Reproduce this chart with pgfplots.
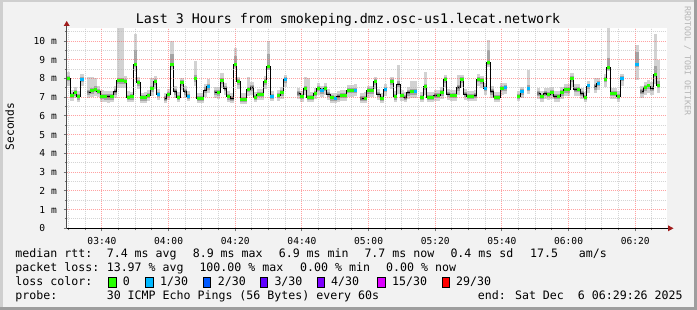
\documentclass[border=0pt]{standalone}
\usepackage{pgfplots}
\pgfplotsset{compat=1.18}
\usepackage{pgfplotstable}
\usepackage{fontspec}
\setmainfont{DejaVu Sans Mono}
\definecolor{bgc}{HTML}{F2F2F2}
\definecolor{shadea}{HTML}{CFCFCF}
\definecolor{shadeb}{HTML}{9E9E9E}
\definecolor{smokeA}{HTML}{D2D2D2}
\definecolor{smokeB}{HTML}{A4A4A4}
\definecolor{smokeC}{HTML}{7A7A7A}
\definecolor{lossA}{HTML}{26FF00}
\definecolor{lossB}{HTML}{00B8FF}
\definecolor{lossC}{HTML}{0059FF}
\definecolor{lossD}{HTML}{5E00FF}
\definecolor{lossE}{HTML}{7E00FF}
\definecolor{lossF}{HTML}{DD00FF}
\definecolor{lossG}{HTML}{FF0000}
\definecolor{arrowc}{HTML}{A01C1C}
\definecolor{mgrid}{HTML}{FF5656}
\definecolor{mingrid}{HTML}{BABABA}
\definecolor{wm}{HTML}{B5B5B5}

% x = minutes after 03:00, med = median rtt (ms), lo/hi = smoke extent, mh = top of darker smoke, c = loss class (0 none,1 = 0 loss,2 = 1/30)
\pgfplotstableread{
x med lo hi mh c
30 8.00 7.60 8.36 8.15 1
31 7.10 6.82 7.40 7.23 1
32 7.24 6.95 7.52 7.37 1
33 7.03 6.75 7.32 7.16 1
34 7.96 7.62 8.22 8.09 2
35 nan nan nan nan 0
36 7.27 6.95 8.10 7.40 0
37 7.35 7.00 8.10 7.50 1
38 7.42 7.05 8.00 7.58 1
39 7.33 7.00 7.62 7.46 1
40 7.06 6.75 7.40 7.19 1
41 7.03 6.72 7.35 7.16 1
42 7.03 6.70 7.32 7.16 0
43 7.03 6.72 7.32 7.16 1
44 7.29 6.95 7.58 7.42 0
45 7.88 7.50 10.70 8.05 1
46 7.88 7.50 10.70 8.05 1
47 7.85 7.50 8.15 7.98 1
48 7.00 6.72 7.35 7.13 1
49 7.02 6.72 7.30 7.15 1
50 8.77 8.40 10.35 9.50 1
51 7.78 7.45 8.10 7.92 1
52 6.98 6.70 7.25 7.11 1
53 6.98 6.70 7.28 7.11 1
54 7.10 6.80 7.38 7.23 1
55 7.45 7.08 8.05 7.60 1
56 7.83 7.45 8.12 7.96 1
57 7.15 6.85 7.42 7.28 2
58 nan nan nan nan 0
59 6.94 6.68 7.25 7.07 0
60 7.17 6.85 7.45 7.30 1
61 8.77 8.45 10.00 9.30 1
62 7.29 6.95 7.60 7.42 0
63 7.00 6.72 7.30 7.13 1
64 7.78 7.40 8.05 7.92 1
65 7.29 6.95 7.58 7.42 0
66 7.06 6.78 7.35 7.19 2
67 nan nan nan nan 0
68 7.99 7.60 8.95 8.20 1
69 6.94 6.68 7.25 7.07 1
70 6.94 6.68 7.22 7.07 1
71 7.38 7.02 7.68 7.52 0
72 7.56 7.25 7.95 7.70 2
73 nan nan nan nan 0
74 7.27 6.95 7.55 7.40 0
75 7.25 6.92 7.55 7.38 1
76 7.88 7.50 8.30 8.02 1
77 7.47 7.10 7.78 7.60 0
78 7.03 6.75 7.32 7.16 1
79 6.94 6.68 7.25 7.07 0
80 8.75 8.50 9.61 9.20 1
81 7.83 7.45 8.10 7.96 1
82 6.90 6.65 7.20 7.03 1
83 6.90 6.65 7.22 7.03 1
84 7.42 7.05 8.10 7.56 1
85 7.50 7.10 7.80 7.64 0
86 7.00 6.72 7.30 7.13 1
87 7.17 6.85 7.45 7.30 1
88 7.17 6.85 7.45 7.30 1
89 7.83 7.45 8.12 7.96 1
90 8.63 8.45 10.00 9.30 1
91 7.05 6.78 7.35 7.18 2
92 nan nan nan nan 0
93 7.10 6.80 7.38 7.23 1
94 7.25 6.92 7.55 7.38 1
95 7.93 7.55 8.20 8.06 2
96 nan nan nan nan 0
97 nan nan nan nan 0
98 nan nan nan nan 0
99 7.20 6.88 7.50 7.33 0
100 7.05 6.75 7.35 7.18 1
101 7.47 7.10 8.10 7.62 1
102 7.00 6.72 8.05 7.13 1
103 7.00 6.72 7.30 7.13 1
104 7.20 6.90 7.50 7.33 1
105 7.47 7.10 7.75 7.60 1
106 7.35 7.02 7.62 7.48 2
107 7.47 7.10 7.75 7.60 1
108 7.17 6.85 7.45 7.30 0
109 6.97 6.70 7.25 7.10 1
110 6.95 6.68 7.25 7.08 2
111 7.03 6.75 7.32 7.16 0
112 7.10 6.80 7.38 7.23 1
113 7.10 6.80 7.38 7.23 1
114 7.38 7.02 7.65 7.51 1
115 7.38 7.02 7.65 7.51 1
116 7.38 7.05 7.68 7.51 2
117 nan nan nan nan 0
118 6.94 6.68 7.25 7.07 0
119 6.94 6.68 7.28 7.07 1
120 7.35 7.00 7.62 7.48 1
121 7.35 7.00 7.62 7.48 1
122 7.83 7.45 8.10 7.96 1
123 7.17 6.85 7.45 7.30 0
124 6.94 6.68 7.25 7.07 1
125 7.42 7.05 7.72 7.55 2
126 nan nan nan nan 0
127 7.83 7.45 8.10 7.96 1
128 7.03 6.75 7.32 7.16 1
129 7.70 7.15 8.72 7.85 0
130 7.10 6.80 7.38 7.23 1
131 7.00 6.72 7.30 7.13 0
132 7.25 6.92 7.55 7.38 0
133 7.30 6.95 7.85 7.43 1
134 7.30 6.95 7.85 7.43 2
135 nan nan nan nan 0
136 7.00 6.72 7.30 7.13 1
137 7.56 7.10 8.36 7.70 1
138 7.00 6.72 7.30 7.13 1
139 7.00 6.72 7.30 7.13 1
140 7.10 6.80 7.38 7.23 0
141 7.10 6.80 7.38 7.23 1
142 7.25 6.92 7.55 7.38 1
143 7.93 7.55 8.20 8.06 1
144 7.17 6.85 7.45 7.30 0
145 7.10 6.80 7.38 7.23 1
146 7.10 6.80 7.40 7.23 1
147 7.50 7.10 8.18 7.64 0
148 7.93 7.55 8.20 8.06 1
149 7.17 6.85 7.45 7.30 0
150 7.06 6.78 7.35 7.19 1
151 7.06 6.78 7.35 7.19 1
152 7.10 6.80 7.40 7.23 0
153 7.96 7.58 8.25 8.09 1
154 7.87 7.50 8.15 8.00 1
155 7.47 7.10 7.75 7.60 2
156 8.86 8.60 10.05 9.50 1
157 7.30 6.95 7.60 7.43 0
158 7.00 6.72 7.30 7.13 1
159 7.00 6.72 7.30 7.13 1
160 7.47 7.10 7.75 7.60 1
161 7.50 7.15 7.78 7.63 2
162 nan nan nan nan 0
163 nan nan nan nan 0
164 nan nan nan nan 0
165 7.06 6.78 7.35 7.19 1
166 7.29 6.95 7.55 7.42 2
167 nan nan nan nan 0
168 7.47 7.15 8.45 7.65 2
169 nan nan nan nan 0
170 nan nan nan nan 0
171 7.20 6.90 7.50 7.33 0
172 7.05 6.75 7.35 7.18 1
173 7.20 6.88 7.50 7.33 0
174 7.17 6.85 7.48 7.30 1
175 7.25 6.92 7.55 7.38 1
176 7.05 6.75 7.35 7.18 0
177 7.05 6.75 7.35 7.18 1
178 7.25 6.92 7.55 7.38 1
179 7.40 7.05 7.70 7.53 1
180 7.40 7.05 7.70 7.53 1
181 7.98 7.55 8.30 8.11 1
182 7.42 7.05 7.72 7.55 0
183 7.42 7.05 7.72 7.55 1
184 7.20 6.88 7.50 7.33 0
185 7.00 6.72 7.30 7.13 1
186 7.60 7.25 7.88 7.73 2
187 nan nan nan nan 0
188 7.55 7.20 8.00 7.68 0
189 7.74 7.40 8.00 7.87 2
190 nan nan nan nan 0
191 7.96 7.55 8.25 8.09 1
192 8.60 8.40 10.68 9.10 1
193 7.20 6.88 7.50 7.33 1
194 7.20 6.88 7.50 7.33 1
195 7.05 6.75 7.35 7.18 1
196 8.00 7.62 8.25 8.13 2
197 nan nan nan nan 0
198 nan nan nan nan 0
199 nan nan nan nan 0
200.5 8.75 7.91 9.79 9.40 2
201.5 nan nan nan nan 0
202 7.31 6.95 7.60 7.44 0
203 7.50 7.12 7.80 7.63 1
204 7.60 7.22 7.90 7.73 1
205 7.48 7.10 7.80 7.61 0
206 8.22 7.70 10.40 8.65 1
207 7.65 7.25 9.00 7.85 1
208 nan nan nan nan 0
}\smoke

\newcommand{\lf}{\fontsize{11.6}{13}\selectfont}

\begin{document}
\begin{tikzpicture}
\useasboundingbox (0,0) rectangle (697pt,310pt);
\fill[bgc] (0,0) rectangle (697pt,310pt);
\fill[shadea] (0,307.5pt) rectangle (697pt,310pt);
\fill[shadea] (0,0) rectangle (2.5pt,310pt);
\fill[shadeb] (0,0) rectangle (697pt,3pt);
\fill[shadeb] (694pt,0) rectangle (697pt,310pt);

\begin{axis}[
  at={(66.7pt,81.7pt)}, anchor=south west,
  width=600pt, height=200pt, scale only axis,
  xmin=29.433, xmax=209.433, ymin=0, ymax=10.68,
  axis background/.style={fill=white},
  axis line style={draw=none},
  tick pos=left, tick align=outside,
  major tick length=3pt, minor tick length=2pt,
  tick style={draw=black!55, line width=1pt},
  xtick={40,60,...,200},
  xticklabels={03:40,04:00,04:20,04:40,05:00,05:20,05:40,06:00,06:20},
  minor xtick={30,35,45,50,55,65,70,75,85,90,95,105,110,115,125,130,135,145,150,155,165,170,175,185,190,195,205},
  ytick={0,1,2,3,4,5,6,7,8,9,10},
  yticklabels={{0\hphantom{\ m}},{1 m},{2 m},{3 m},{4 m},{5 m},{6 m},{7 m},{8 m},{9 m},{10 m}},
  minor ytick={0.5,1.5,2.5,3.5,4.5,5.5,6.5,7.5,8.5,9.5,10.5},
  grid=both,
  major grid style={draw=mgrid, opacity=0.55, dash pattern=on 1pt off 1pt, line width=1pt},
  minor grid style={draw=mingrid, opacity=0.6, dash pattern=on 1pt off 1pt, line width=1pt},
  axis on top,
  unbounded coords=jump,
  ticklabel style={font=\fontsize{9.6}{11}\selectfont, inner sep=0pt},
  xticklabel style={anchor=base, yshift=-13.7pt},
  yticklabel style={anchor=east, xshift=-6.7pt},
]
% smoke: outer
\addplot[draw=none, mark=none, forget plot,
  error bars/.cd, y dir=both, y explicit, error mark=none,
  error bar style={line width=3.4pt, draw=smokeA}]
  table[x=x, y=med, y error plus expr=\thisrow{hi}-\thisrow{med}, y error minus expr=\thisrow{med}-\thisrow{lo}] {\smoke};
% smoke: middle
\addplot[draw=none, mark=none, forget plot,
  error bars/.cd, y dir=both, y explicit, error mark=none,
  error bar style={line width=3.4pt, draw=smokeB}]
  table[x=x, y=med, y error plus expr=\thisrow{mh}-\thisrow{med}, y error minus expr=0.16] {\smoke};
% smoke: inner
\addplot[draw=none, mark=none, forget plot,
  error bars/.cd, y dir=both, y explicit, error mark=none,
  error bar style={line width=3.4pt, draw=smokeC}]
  table[x=x, y=med, y error plus expr=0.08, y error minus expr=0.07] {\smoke};
% median line
\addplot[const plot mark mid, draw=black, line width=0.9pt, mark=none] table[x=x, y=med] {\smoke};
% loss colour marks
\addplot[only marks, mark=-, mark size=1.7pt, mark options={line width=3pt, draw=lossA},
  restrict expr to domain={\thisrow{c}}{0.5:1.5}] table[x=x, y=med] {\smoke};
\addplot[only marks, mark=-, mark size=1.7pt, mark options={line width=3pt, draw=lossB},
  restrict expr to domain={\thisrow{c}}{1.5:2.5}] table[x=x, y=med] {\smoke};
\end{axis}

% axis lines with arrows
\draw[black, line width=1pt] (66.7pt,81.7pt) -- (668.5pt,81.7pt);
\fill[arrowc] (668pt,84.7pt) -- (673.5pt,81.7pt) -- (668pt,78.7pt) -- cycle;
\draw[black!70, line width=1pt] (66.7pt,81.7pt) -- (66.7pt,284.5pt);
\fill[arrowc] (63.7pt,284pt) -- (66.7pt,289pt) -- (69.7pt,284pt) -- cycle;

% title, labels, watermark
\node[anchor=base, inner sep=0pt, font=\fontsize{13.3}{15}\selectfont] at (348pt,286pt) {Last 3 Hours from smokeping.dmz.osc-us1.lecat.network};
\node[rotate=90, anchor=center, inner sep=0pt, font=\fontsize{11.2}{12}\selectfont] at (9.7pt,183.5pt) {Seconds};
\node[rotate=-90, anchor=center, inner sep=0pt, text=wm, font=\fontsize{8.3}{9}\selectfont] at (687.5pt,249pt) {RRDTOOL / TOBI OETIKER};

% legend rows
\begin{scope}[every node/.style={anchor=base west, inner sep=0pt, font=\lf}]
\node at (15.3pt,52.3pt) {median rtt:};
\node at (106.6pt,52.3pt) {7.4 ms avg};
\node at (192.6pt,52.3pt) {8.9 ms max};
\node at (278.6pt,52.3pt) {6.9 ms min};
\node at (364.3pt,52.3pt) {7.7 ms now};
\node at (450.3pt,52.3pt) {0.4 ms sd};
\node at (530pt,52.3pt) {17.5};
\node at (578.6pt,52.3pt) {am/s};

\node at (15.3pt,38.2pt) {packet loss:};
\node at (106.6pt,38.2pt) {13.97 \% avg};
\node at (199.3pt,38.2pt) {100.00 \% max};
\node at (300pt,38.2pt) {0.00 \% min};
\node at (386pt,38.2pt) {0.00 \% now};

\node at (15.3pt,24.1pt) {loss color:};
\node at (122.6pt,24.1pt) {0};
\node at (160pt,24.1pt) {1/30};
\node at (217.6pt,24.1pt) {2/30};
\node at (274.3pt,24.1pt) {3/30};
\node at (331pt,24.1pt) {4/30};
\node at (392pt,24.1pt) {15/30};
\node at (456pt,24.1pt) {29/30};

\node at (15.3pt,10pt) {probe:};
\node at (106.6pt,10pt) {30 ICMP Echo Pings (56 Bytes) every 60s};
\node at (477.6pt,10pt) {end: Sat Dec\ \ 6 06:29:26 2025};
\end{scope}

% loss colour boxes
\begin{scope}[line width=0.8pt]
\filldraw[fill=lossA, draw=black] (108.7pt,23pt) rectangle ++(7.5pt,9.5pt);
\filldraw[fill=lossB, draw=black] (145.7pt,23pt) rectangle ++(7.5pt,9.5pt);
\filldraw[fill=lossC, draw=black] (203.3pt,23pt) rectangle ++(7.5pt,9.5pt);
\filldraw[fill=lossD, draw=black] (260pt,23pt) rectangle ++(7.5pt,9.5pt);
\filldraw[fill=lossE, draw=black] (317.3pt,23pt) rectangle ++(7.5pt,9.5pt);
\filldraw[fill=lossF, draw=black] (377.7pt,23pt) rectangle ++(7.5pt,9.5pt);
\filldraw[fill=lossG, draw=black] (442.3pt,23pt) rectangle ++(7.5pt,9.5pt);
\end{scope}
\end{tikzpicture}
\end{document}
